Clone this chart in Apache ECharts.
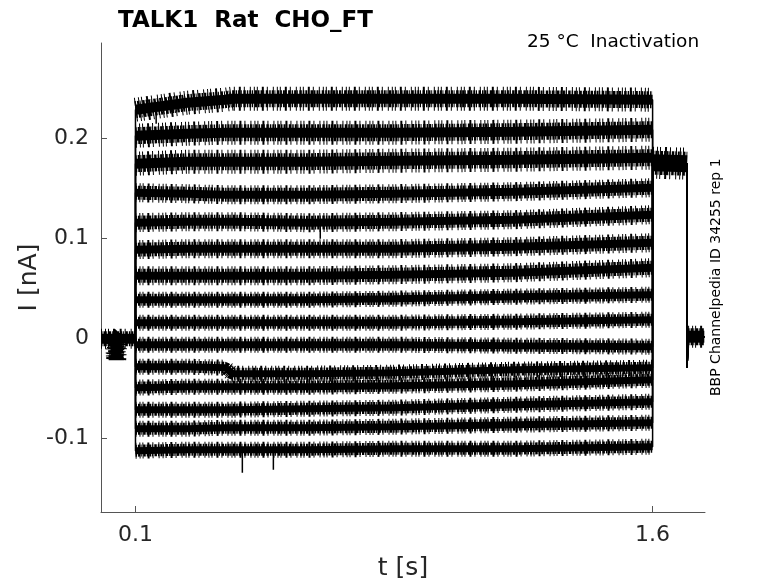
<!DOCTYPE html>
<html>
<head>
<meta charset="utf-8">
<script src="https://cdn.jsdelivr.net/npm/echarts@6/dist/echarts.min.js"></script>
<style>html,body{margin:0;padding:0;background:#fff;overflow:hidden}#c{width:778px;height:583px}</style>
</head>
<body>
<div id="c"></div>
<script>
// ---- data ----
const xTicks = [0.1, 1.6];
const yTicks = [-0.1, 0, 0.1, 0.2];
const pulseTimes = [0.1, 0.25, 0.36, 0.38, 0.6, 0.85, 1.2, 1.6];
const pulseTraces = [
  [0.229, 0.236, 0.239, 0.240, 0.240, 0.240, 0.240, 0.239],
  [0.203, 0.205, 0.206, 0.206, 0.206, 0.206, 0.207, 0.209],
  [0.175, 0.177, 0.177, 0.177, 0.177, 0.178, 0.179, 0.181],
  [0.146, 0.145, 0.144, 0.144, 0.144, 0.145, 0.147, 0.151],
  [0.116, 0.117, 0.117, 0.117, 0.116, 0.117, 0.119, 0.124],
  [0.089, 0.090, 0.090, 0.090, 0.090, 0.090, 0.092, 0.096],
  [0.063, 0.063, 0.063, 0.063, 0.063, 0.064, 0.066, 0.071],
  [0.039, 0.039, 0.039, 0.039, 0.039, 0.040, 0.042, 0.044],
  [0.016, 0.016, 0.016, 0.016, 0.016, 0.016, 0.017, 0.019],
  [-0.006, -0.006, -0.006, -0.006, -0.006, -0.006, -0.007, -0.008],
  [-0.028, -0.028, -0.029, -0.035, -0.035, -0.034, -0.031, -0.029],
  [-0.049, -0.048, -0.048, -0.048, -0.048, -0.047, -0.045, -0.041],
  [-0.071, -0.071, -0.071, -0.071, -0.070, -0.069, -0.066, -0.063],
  [-0.090, -0.090, -0.089, -0.089, -0.089, -0.088, -0.086, -0.084],
  [-0.112, -0.111, -0.111, -0.111, -0.111, -0.110, -0.110, -0.108]
];
const prePoints = [[0, 0.0], [0.040, 0.0], [0.044, -0.021], [0.048, 0.0], [0.1, 0.0]];
const tailPoints = [[1.6, 0.176], [1.70, 0.175]];
const postPoints = [[1.703, 0.002], [1.75, 0.002]];
const postSpike = -0.029;
// isolated spikes visible in the traces: [t, from, to]
const spikes = [[0.41, -0.112, -0.134], [0.50, -0.112, -0.131], [0.636, 0.117, 0.100], [0.16, 0.230, 0.215]];

// ---- build series ----
const series = [];
function lineSeries(data, width, z, dash) {
  return {
    type: 'line', data: data, showSymbol: false, symbol: 'none',
    lineStyle: { color: '#000', width: width, type: dash || 'solid', cap: 'butt' },
    z: z, silent: true, animation: false
  };
}
// noise-like band: a solid core plus two broken envelopes
function band(data, core, mid, outer) {
  series.push(lineSeries(data, outer, 3, [1, 3, 1, 2, 1, 4, 2, 3, 1, 5]));
  series.push(lineSeries(data, mid, 3, [1.5, 1, 2, 0.7, 1, 1.5, 2.5, 1]));
  series.push(lineSeries(data, core, 4));
}
pulseTraces.forEach(function (vals, i) {
  const pulse = pulseTimes.map(function (t, k) { return [t, vals[k]]; });
  const full = [[0, prePoints[0][1]], [0.1, prePoints[prePoints.length - 1][1]]]
    .concat(pulse)
    .concat(tailPoints)
    .concat([[tailPoints[tailPoints.length - 1][0], postSpike]])
    .concat(postPoints);
  series.push(lineSeries(full, 1.5, 2));
  if (i < 3) band(pulse, 10, 17, 24);
  else if (i < 7) band(pulse, 8, 14, 19);
  else band(pulse, 7, 12, 16);
});
band(prePoints, 10, 15, 20);
band(tailPoints, 17, 24, 32);
band(postPoints, 12, 17, 22);
spikes.forEach(function (s) {
  series.push(lineSeries([[s[0], s[1]], [s[0], s[2]]], 1.5, 4));
});

const axisColor = '#555';
const labelColor = '#262626';
const font = 'DejaVu Sans';

const chart = echarts.init(document.getElementById('c'), null, { renderer: 'canvas' });
chart.setOption({
  animation: false,
  backgroundColor: '#fff',
  title: {
    text: 'TALK1  Rat  CHO_FT',
    left: 113, top: 5,
    textStyle: { fontFamily: font, fontWeight: 'bold', fontSize: 23, color: '#000' }
  },
  graphic: [
    { type: 'text', left: 527, top: 33,
      style: { text: '25 °C  Inactivation', font: '18.5px "DejaVu Sans"', fill: '#000' } },
    { type: 'text', x: 709, y: 396, rotation: Math.PI / 2,
      style: { text: 'BBP Channelpedia ID 34255 rep 1', font: '14px "DejaVu Sans"', fill: '#000', textVerticalAlign: 'top' } }
  ],
  grid: { left: 101, right: 73, top: 43, bottom: 71, containLabel: false, outerBoundsMode: 'none' },
  xAxis: {
    type: 'value', min: 0, max: 1.752,
    name: 't [s]', nameLocation: 'middle', nameGap: 44, nameMoveOverlap: false,
    nameTextStyle: { fontFamily: font, fontSize: 25, color: labelColor },
    axisLine: { show: true, onZero: false, lineStyle: { color: axisColor, width: 1 } },
    axisTick: { show: true, inside: true, length: 6, lineStyle: { color: axisColor }, customValues: xTicks },
    axisLabel: { fontFamily: font, fontSize: 22, color: labelColor, margin: 12, customValues: xTicks,
      formatter: function (v) { return String(v); } },
    splitLine: { show: false }
  },
  yAxis: {
    type: 'value', min: -0.1733, max: 0.2957,
    name: 'I [nA]', nameLocation: 'middle', nameGap: 59, nameRotate: 90, nameMoveOverlap: false,
    nameTextStyle: { fontFamily: font, fontSize: 25, color: labelColor },
    axisLine: { show: true, onZero: false, lineStyle: { color: axisColor, width: 1 } },
    axisTick: { show: true, inside: true, length: 6, lineStyle: { color: axisColor }, customValues: yTicks },
    axisLabel: { fontFamily: font, fontSize: 22, color: labelColor, margin: 12, customValues: yTicks,
      formatter: function (v) { return String(Math.round(v * 10) / 10); } },
    splitLine: { show: false }
  },
  series: series
});
</script>
</body>
</html>
